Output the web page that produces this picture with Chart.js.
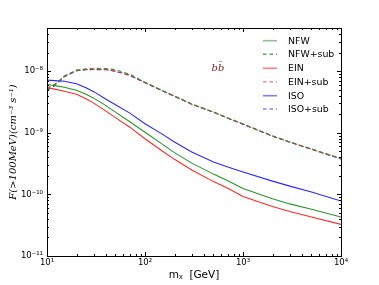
<!DOCTYPE html>
<html>
<head>
<meta charset="utf-8">
<script src="https://cdn.jsdelivr.net/npm/chart.js@4/dist/chart.umd.min.js"></script>
<style>
html,body{margin:0;padding:0;background:#fff;}
#wrap{width:379px;height:285px;position:relative;}
</style>
</head>
<body>
<div id="wrap"><canvas id="c" width="379" height="285"></canvas></div>
<script>
// ---- data ----
const masses = [10, 12, 15, 20, 25, 30, 40, 50, 70, 100, 150, 200, 300, 500, 700, 1000, 2000, 3000, 5000, 10000];
const nfw    = [6.13e-9, 5.8e-9, 5.48e-9, 4.9e-9, 4.22e-9, 3.64e-9, 2.75e-9, 2.16e-9, 1.51e-9, 1.02e-9, 6.53e-10, 4.76e-10, 3.21e-10, 2.13e-10, 1.66e-10, 1.24e-10, 8.5e-11, 7.0e-11, 5.75e-11, 4.3e-11];
const nfwSub = [5.0e-9, 6.0e-9, 8.3e-9, 1.04e-8, 1.09e-8, 1.11e-8, 1.10e-8, 1.05e-8, 8.9e-9, 6.6e-9, 4.85e-9, 3.95e-9, 2.92e-9, 2.17e-9, 1.74e-9, 1.39e-9, 8.9e-10, 7.1e-10, 5.45e-10, 3.8e-10];
const ein    = [5.38e-9, 5.09e-9, 4.72e-9, 4.22e-9, 3.57e-9, 3.02e-9, 2.24e-9, 1.76e-9, 1.23e-9, 8.0e-10, 5.05e-10, 3.7e-10, 2.48e-10, 1.61e-10, 1.26e-10, 9.2e-11, 6.34e-11, 5.26e-11, 4.29e-11, 3.26e-11];
const einSub = [5.3e-9, 6.1e-9, 8.2e-9, 1.02e-8, 1.06e-8, 1.07e-8, 1.06e-8, 1.00e-8, 8.6e-9, 6.5e-9, 4.8e-9, 3.92e-9, 2.9e-9, 2.15e-9, 1.73e-9, 1.38e-9, 8.8e-10, 7.05e-10, 5.4e-10, 3.78e-10];
const iso    = [7.13e-9, 6.99e-9, 6.86e-9, 6.25e-9, 5.38e-9, 4.64e-9, 3.5e-9, 2.85e-9, 2.08e-9, 1.40e-9, 9.5e-10, 7.05e-10, 4.85e-10, 3.34e-10, 2.77e-10, 2.30e-10, 1.64e-10, 1.36e-10, 1.09e-10, 7.8e-11];
const isoSub = [4.85e-9, 5.8e-9, 8.1e-9, 1.01e-8, 1.05e-8, 1.06e-8, 1.05e-8, 9.9e-9, 8.5e-9, 6.45e-9, 4.78e-9, 3.9e-9, 2.9e-9, 2.15e-9, 1.72e-9, 1.37e-9, 8.8e-10, 7.0e-10, 5.4e-10, 3.75e-10];

const seriesNames = ['NFW', 'NFW+sub', 'EIN', 'EIN+sub', 'ISO', 'ISO+sub'];
const xTickValues = [10, 100, 1000, 10000];
const xTickLabels = ['10¹', '10²', '10³', '10⁴'];
const yTickValues = [1e-11, 1e-10, 1e-9, 1e-8];
const yTickLabels = ['10⁻¹¹', '10⁻¹⁰', '10⁻⁹', '10⁻⁸'];
const annotation = 'bb̄';

// ---- styles ----
const GREEN = 'rgb(40,150,40)';
const RED = 'rgb(255,40,40)';
const BLUE = 'rgb(40,40,255)';
const DASH = [4, 3];

function pts(arr) { return masses.map((m, i) => ({x: m, y: arr[i]})); }
function ds(label, arr, color, dashed) {
  return {label, data: pts(arr), borderColor: color, backgroundColor: color,
    borderWidth: 1.1, borderDash: dashed ? DASH : [], pointRadius: 0, tension: 0,
    fill: false, showLine: true};
}

const datasets = [
  ds(seriesNames[0], nfw, GREEN, false),
  ds(seriesNames[1], nfwSub, GREEN, true),
  ds(seriesNames[2], ein, RED, false),
  ds(seriesNames[3], einSub, RED, true),
  ds(seriesNames[4], iso, BLUE, false),
  ds(seriesNames[5], isoSub, BLUE, true)
];

function minorValues(min, max) {
  const out = [];
  for (let e = Math.floor(Math.log10(min)); e <= Math.ceil(Math.log10(max)); e++) {
    for (let k = 1; k <= 9; k++) {
      const v = k * Math.pow(10, e);
      if (v >= min * 0.999 && v <= max * 1.001) out.push({v, major: k === 1});
    }
  }
  return out;
}

const framePlugin = {
  id: 'frame',
  afterDatasetsDraw(chart) {
    const {ctx, chartArea: a, scales: {x, y}} = chart;
    ctx.save();
    ctx.strokeStyle = '#000';
    ctx.lineWidth = 1;
    ctx.setLineDash([]);
    ctx.beginPath();
    minorValues(x.min, x.max).forEach(t => {
      const px = Math.round(x.getPixelForValue(t.v)) + 0.5;
      const L = t.major ? 4 : 2;
      ctx.moveTo(px, a.bottom); ctx.lineTo(px, a.bottom - L);
      ctx.moveTo(px, a.top); ctx.lineTo(px, a.top + L);
    });
    minorValues(y.min, y.max).forEach(t => {
      const py = Math.round(y.getPixelForValue(t.v)) + 0.5;
      const L = t.major ? 4 : 2;
      ctx.moveTo(a.left, py); ctx.lineTo(a.left + L, py);
      ctx.moveTo(a.right, py); ctx.lineTo(a.right - L, py);
    });
    ctx.stroke();
    ctx.strokeRect(Math.round(a.left) + 0.5, Math.round(a.top) + 0.5,
      Math.round(a.right - a.left), Math.round(a.bottom - a.top));

    ctx.fillStyle = 'rgb(140,25,25)';
    ctx.font = 'italic 10px "DejaVu Serif"';
    ctx.textAlign = 'center';
    ctx.textBaseline = 'middle';
    ctx.fillText(annotation, 218, 68);

    const rows = [40.7, 54.3, 68.3, 81.7, 95.7, 109];
    const cols = ['rgba(40,150,40,0.55)', 'rgba(40,150,40,0.8)', 'rgba(255,40,40,0.6)', 'rgba(255,40,40,0.55)', 'rgba(40,40,255,0.6)', 'rgba(40,40,255,0.6)'];
    ctx.font = '9.4px "DejaVu Sans"';
    ctx.textAlign = 'left';
    seriesNames.forEach((n, i) => {
      const yy = rows[i];
      ctx.strokeStyle = cols[i];
      ctx.lineWidth = 1.6;
      ctx.setLineDash(i % 2 ? [3.5, 3] : []);
      ctx.beginPath();
      ctx.moveTo(263, yy); ctx.lineTo(277, yy);
      ctx.stroke();
      ctx.setLineDash([]);
      ctx.fillStyle = '#000';
      ctx.fillText(n, 288, yy + 0.5);
    });
    ctx.restore();
  }
};

new Chart(document.getElementById('c'), {
  type: 'scatter',
  data: {datasets},
  options: {
    responsive: false,
    animation: false,
    devicePixelRatio: 1,
    layout: {padding: {left: 0, top: 28, right: 38, bottom: 0}},
    plugins: {legend: {display: false}, tooltip: {enabled: false}},
    scales: {
      x: {
        type: 'logarithmic', min: 10, max: 10000,
        afterBuildTicks(s) { s.ticks = xTickValues.map(v => ({value: v})); },
        afterFit(s) { s.height = 29; },
        ticks: {
          autoSkip: false, maxRotation: 0, padding: 2, color: '#000',
          font: {family: 'DejaVu Sans', size: 8.5},
          callback(v) { const i = xTickValues.indexOf(v); return i >= 0 ? xTickLabels[i] : ''; }
        },
        grid: {display: false, drawTicks: false},
        border: {display: false},
        title: {display: true, text: 'mᵪ  [GeV]', color: '#000',
          font: {family: 'DejaVu Sans', size: 10.5}, padding: {top: 0, bottom: 3}}
      },
      y: {
        type: 'logarithmic', min: 1e-11, max: 5e-8,
        afterBuildTicks(s) { s.ticks = yTickValues.map(v => ({value: v})); },
        afterFit(s) { s.width = 47; },
        ticks: {
          autoSkip: false, padding: 4, color: '#000',
          font: {family: 'DejaVu Sans', size: 8.5},
          callback(v) {
            const i = yTickValues.findIndex(t => Math.abs(t - v) / t < 1e-6);
            return i >= 0 ? yTickLabels[i] : '';
          }
        },
        grid: {display: false, drawTicks: false},
        border: {display: false},
        title: {display: true, text: 'F(>100MeV)(cm⁻³ s⁻¹)', color: '#000',
          font: {family: 'DejaVu Serif', style: 'italic', size: 10}, padding: {top: 7, bottom: 0}}
      }
    }
  },
  plugins: [framePlugin]
});
</script>
</body>
</html>
